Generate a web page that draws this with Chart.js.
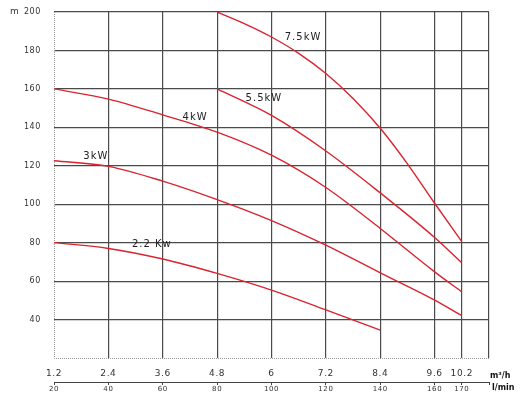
<!DOCTYPE html>
<html>
<head>
<meta charset="utf-8">
<script src="https://cdn.jsdelivr.net/npm/chart.js@4.4.1/dist/chart.umd.min.js"></script>
<style>
  html, body { margin: 0; padding: 0; background: #fff; }
  #wrap { width: 523px; height: 399px; }
</style>
</head>
<body>
<div id="wrap"><canvas id="pumpChart"></canvas></div>
<script>
// flow in l/min, head in m
const flow22 = [20, 40, 60, 80, 100, 120, 140];
const head22 = [80, 77, 71.5, 64, 55.3, 45, 34.5];

const flow3 = [20, 40, 60, 80, 100, 120, 140, 160, 170];
const head3 = [122.6, 119.7, 112, 102.4, 91.5, 78.7, 64.3, 50.1, 42];

const flow4 = [20, 40, 60, 80, 100, 120, 140, 160, 170];
const head4 = [160, 154.7, 146.5, 137.5, 125.5, 108.7, 87.4, 64.8, 54.4];

const flow55 = [80, 100, 120, 140, 160, 170];
const head55 = [160, 146.2, 127.7, 105.9, 82.7, 69.5];

const flow75 = [80, 90, 100, 110, 120, 130, 140, 150, 160, 170];
const head75 = [200, 194, 187, 178.5, 168, 155, 139.5, 121, 100.5, 80.5];

const curveNames = ["2.2 Kw", "3kW", "4kW", "5.5kW", "7.5kW"];

// tick labels
const lpmTicks = [20, 40, 60, 80, 100, 120, 140, 160, 170, 180];
const lpmLabels = ["20", "40", "60", "80", "100", "120", "140", "160", "170", ""];
const m3hLabels = ["1.2", "2.4", "3.6", "4.8", "6", "7.2", "8.4", "9.6", "10.2", ""];
const headTicks = [20, 40, 60, 80, 100, 120, 140, 160, 180, 200];

// where each curve name sits (data coords)
const nameSpots = [
  { x: 56, y: 79.2 },
  { x: 35.4, y: 125 },
  { x: 71.9, y: 145.2 },
  { x: 97.2, y: 155 },
  { x: 111.6, y: 186.8 }
];

const red = "#d9232e";
const gridColor = "#4a4a4a";

function toPoints(xs, ys) {
  return xs.map((x, i) => ({ x: x, y: ys[i] }));
}

function makeSet(xs, ys) {
  return {
    data: toPoints(xs, ys),
    borderColor: red,
    borderWidth: 1.4,
    pointRadius: 0,
    fill: false,
    cubicInterpolationMode: "monotone"
  };
}

const spacing = {
  id: "spacing",
  beforeLayout(chart) {
    chart.ctx.letterSpacing = "0.6px";
  },
  beforeDraw(chart) {
    chart.ctx.letterSpacing = "0.6px";
  }
};

const extras = {
  id: "extras",
  beforeDatasetsDraw(chart) {
    // dotted left and bottom frame
    const ctx = chart.ctx;
    const a = chart.chartArea;
    ctx.save();
    ctx.strokeStyle = "#9a9a9a";
    ctx.lineWidth = 1;
    ctx.setLineDash([1, 1]);
    ctx.beginPath();
    ctx.moveTo(a.left + 0.5, a.top);
    ctx.lineTo(a.left + 0.5, a.bottom + 0.5);
    ctx.lineTo(a.right, a.bottom + 0.5);
    ctx.stroke();
    ctx.restore();
  },
  afterDraw(chart) {
    const ctx = chart.ctx;
    const xs = chart.scales.x;
    const ys = chart.scales.y;

    ctx.save();
    ctx.letterSpacing = "1px";
    ctx.fillStyle = "#222";
    ctx.font = "10px 'DejaVu Sans'";
    ctx.textAlign = "center";
    ctx.textBaseline = "middle";
    curveNames.forEach((name, i) => {
      ctx.fillText(name, xs.getPixelForValue(nameSpots[i].x), ys.getPixelForValue(nameSpots[i].y));
    });

    ctx.letterSpacing = "0px";
    ctx.textAlign = "left";
    ctx.fillStyle = "#333";
    ctx.font = "9px 'DejaVu Sans'";
    ctx.fillText("m", 10, 12);

    ctx.fillStyle = "#111";
    ctx.font = "bold 8px 'DejaVu Sans'";
    ctx.fillText("m\u00b3/h", 490, 376);
    ctx.fillText("l/min", 492, 388);
    ctx.restore();
  }
};

new Chart(document.getElementById("pumpChart"), {
  type: "line",
  data: {
    datasets: [
      makeSet(flow22, head22),
      makeSet(flow3, head3),
      makeSet(flow4, head4),
      makeSet(flow55, head55),
      makeSet(flow75, head75)
    ]
  },
  options: {
    responsive: true,
    maintainAspectRatio: false,
    animation: false,
    layout: {
      padding: { left: 0, right: 34, top: 12, bottom: 5 }
    },
    plugins: {
      legend: { display: false },
      tooltip: { enabled: false }
    },
    scales: {
      x: {
        type: "linear",
        position: "bottom",
        min: 20,
        max: 180,
        afterBuildTicks: (scale) => {
          scale.ticks = lpmTicks.map((v) => ({ value: v }));
        },
        afterFit: (scale) => {
          scale.height = 24;
          scale.paddingLeft = 0;
          scale.paddingRight = 0;
        },
        grid: {
          color: (c) => (c.tick && c.tick.value === 20 ? "rgba(0,0,0,0)" : gridColor),
          lineWidth: 1.2,
          drawTicks: false
        },
        border: { display: false },
        ticks: {
          autoSkip: false,
          maxRotation: 0,
          padding: 10,
          color: "#333",
          font: { family: "DejaVu Sans", size: 9 },
          callback: (v, i) => m3hLabels[i]
        }
      },
      x2: {
        type: "linear",
        position: "bottom",
        min: 20,
        max: 180,
        afterBuildTicks: (scale) => {
          scale.ticks = lpmTicks.map((v) => ({ value: v }));
        },
        afterFit: (scale) => {
          scale.height = 12;
          scale.paddingLeft = 0;
          scale.paddingRight = 0;
        },
        grid: {
          display: true,
          drawOnChartArea: false,
          drawTicks: true,
          tickLength: 3,
          color: "#444"
        },
        border: { display: true, color: "#444", width: 1 },
        ticks: {
          autoSkip: false,
          maxRotation: 0,
          padding: 0,
          color: "#333",
          font: { family: "DejaVu Sans", size: 7 },
          callback: (v, i) => lpmLabels[i]
        }
      },
      y: {
        min: 20,
        max: 200,
        afterBuildTicks: (scale) => {
          scale.ticks = headTicks.map((v) => ({ value: v }));
        },
        afterFit: (scale) => {
          scale.width = 54;
          scale.paddingTop = 0;
          scale.paddingBottom = 0;
        },
        grid: {
          color: (c) => (c.tick && c.tick.value === 20 ? "rgba(0,0,0,0)" : gridColor),
          lineWidth: 1.2,
          drawTicks: false
        },
        border: { display: false },
        ticks: {
          padding: 13,
          color: "#333",
          font: { family: "DejaVu Sans", size: 8 },
          callback: (v) => (v === 20 ? "" : v)
        }
      }
    }
  },
  plugins: [spacing, extras]
});
</script>
</body>
</html>
